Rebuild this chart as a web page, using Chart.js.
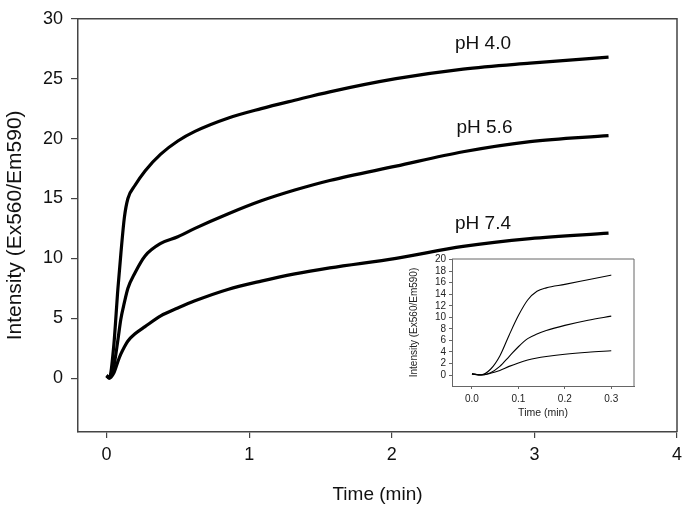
<!DOCTYPE html>
<html>
<head>
<meta charset="utf-8">
<script src="https://cdn.jsdelivr.net/npm/chart.js@4.4.0/dist/chart.umd.min.js"></script>
<style>
  html, body { margin: 0; padding: 0; background: #fff; }
  #wrap { position: relative; width: 691px; height: 518px; }
  #main { position: absolute; left: 0; top: 0; }
  #inset { position: absolute; left: 400px; top: 250px; }
</style>
</head>
<body>
<div id="wrap">
  <canvas id="main" width="691" height="518"></canvas>
  <canvas id="inset" width="245" height="175"></canvas>
</div>
<script>
// main panel (0 - 3.5 min)
const mainTime = [0, 0.02, 0.05, 0.08, 0.1, 0.125, 0.15, 0.2, 0.27, 0.38, 0.5, 0.62, 0.85, 1.085, 1.32, 1.565, 2.03, 2.5, 2.97, 3.52];
const ph40Main = [0.2, 0.05, 2.6, 7.5, 10.3, 13.4, 15.0, 16.1, 17.3, 18.7, 19.8, 20.6, 21.7, 22.5, 23.2, 23.9, 25.0, 25.8, 26.3, 26.8];
const ph56Main = [0.2, 0.0, 0.9, 3.2, 4.9, 6.3, 7.5, 8.8, 10.2, 11.25, 11.8, 12.5, 13.7, 14.8, 15.7, 16.5, 17.7, 18.9, 19.75, 20.25];
const ph74Main = [0.2, 0.0, 0.4, 1.4, 2.0, 2.6, 3.1, 3.7, 4.3, 5.2, 5.85, 6.45, 7.4, 8.1, 8.7, 9.2, 10.0, 11.0, 11.65, 12.1];
const mainXTicks = [0, 1, 2, 3, 4];
const mainYTicks = [0, 5, 10, 15, 20, 25, 30];

// inset (first 0.3 min)
const insetTime = [0, 0.02, 0.04, 0.06, 0.08, 0.1, 0.12, 0.14, 0.16, 0.2, 0.25, 0.3];
const ph40Inset = [0.2, 0.05, 1.0, 3.3, 6.9, 10.3, 13.0, 14.5, 15.1, 15.7, 16.5, 17.3];
const ph56Inset = [0.2, 0.0, 0.4, 1.5, 3.2, 4.9, 6.3, 7.1, 7.7, 8.6, 9.5, 10.2];
const ph74Inset = [0.2, 0.0, 0.3, 0.8, 1.5, 2.1, 2.6, 2.95, 3.2, 3.6, 3.95, 4.2];
const insetXTicks = [0, 0.1, 0.2, 0.3];
const insetYTicks = [0, 2, 4, 6, 8, 10, 12, 14, 16, 18, 20];

const curveNames = ['pH 4.0', 'pH 5.6', 'pH 7.4'];

const FONT = 'Liberation Sans, Arial, sans-serif';
const AXIS = '#444';

const toPoints = (xs, ys) => xs.map((x, i) => ({ x: x, y: ys[i] }));

// top and right sides of the box
const framePlugin = {
  id: 'frame',
  afterDraw(chart, args, opts) {
    const { ctx, chartArea: a } = chart;
    ctx.save();
    ctx.strokeStyle = opts.color;
    ctx.lineWidth = opts.width;
    ctx.beginPath();
    ctx.moveTo(a.left, a.top);
    ctx.lineTo(a.right, a.top);
    ctx.lineTo(a.right, a.bottom);
    ctx.stroke();
    ctx.restore();
  }
};

// curve names written above the end of each trace
const curveLabels = {
  id: 'curveLabels',
  afterDatasetsDraw(chart, args, opts) {
    const { ctx, scales: { x, y } } = chart;
    ctx.save();
    ctx.font = '19px ' + FONT;
    ctx.fillStyle = '#111';
    ctx.textAlign = 'center';
    ctx.textBaseline = 'middle';
    opts.anchors.forEach((p, i) => {
      ctx.fillText(curveNames[i], x.getPixelForValue(p[0]), y.getPixelForValue(p[1]));
    });
    ctx.restore();
  }
};

function lineSet(label, xs, ys, width) {
  return {
    label: label,
    data: toPoints(xs, ys),
    borderColor: '#000',
    borderWidth: width,
    pointRadius: 0,
    cubicInterpolationMode: 'monotone',
    fill: false,
  };
}

new Chart(document.getElementById('main'), {
  type: 'line',
  data: {
    datasets: [
      lineSet(curveNames[0], mainTime, ph40Main, 3.2),
      lineSet(curveNames[1], mainTime, ph56Main, 3.2),
      lineSet(curveNames[2], mainTime, ph74Main, 3.2),
    ],
  },
  plugins: [framePlugin, curveLabels],
  options: {
    responsive: false,
    animation: false,
    layout: { padding: { top: 11, right: 14, left: 0, bottom: 0 } },
    plugins: {
      legend: { display: false },
      tooltip: { enabled: false },
      frame: { color: AXIS, width: 1.5 },
      curveLabels: { anchors: [[2.64, 27.9], [2.65, 20.9], [2.64, 12.9]] },
    },
    scales: {
      x: {
        type: 'linear',
        min: -0.2,
        max: 4,
        afterBuildTicks: s => { s.ticks = mainXTicks.map(v => ({ value: v })); },
        afterFit: s => { s.height = 86; },
        grid: { drawOnChartArea: false, tickLength: 6, color: AXIS, lineWidth: 1.2 },
        border: { color: AXIS, width: 1.5 },
        ticks: { color: '#111', padding: 6, autoSkip: false, font: { size: 18, family: FONT } },
        title: { display: true, text: 'Time (min)', color: '#111', padding: { top: 0, bottom: 12 }, font: { size: 19, family: FONT } },
      },
      y: {
        type: 'linear',
        min: -4.5,
        max: 30,
        afterBuildTicks: s => { s.ticks = mainYTicks.map(v => ({ value: v })); },
        afterFit: s => { s.width = 78; },
        grid: { drawOnChartArea: false, tickLength: 7, color: AXIS, lineWidth: 1.2 },
        border: { color: AXIS, width: 1.5 },
        ticks: { color: '#111', padding: 8, autoSkip: false, font: { size: 18, family: FONT } },
        title: { display: true, text: 'Intensity (Ex560/Em590)', color: '#111', padding: { top: 3, bottom: 0 }, font: { size: 21, family: FONT } },
      },
    },
  },
});

new Chart(document.getElementById('inset'), {
  type: 'line',
  data: {
    datasets: [
      lineSet(curveNames[0], insetTime, ph40Inset, 1.1),
      lineSet(curveNames[1], insetTime, ph56Inset, 1.1),
      lineSet(curveNames[2], insetTime, ph74Inset, 1.1),
    ],
  },
  plugins: [framePlugin],
  options: {
    responsive: false,
    animation: false,
    layout: { padding: { top: 7, right: 11, left: 0, bottom: 0 } },
    plugins: {
      legend: { display: false },
      tooltip: { enabled: false },
      frame: { color: '#666', width: 1 },
    },
    scales: {
      x: {
        type: 'linear',
        min: -0.043,
        max: 0.349,
        afterBuildTicks: s => { s.ticks = insetXTicks.map(v => ({ value: v })); },
        afterFit: s => { s.height = 39; },
        grid: { drawOnChartArea: false, tickLength: 3, color: '#666', lineWidth: 1 },
        border: { color: '#666', width: 1 },
        ticks: { color: '#222', padding: 4, autoSkip: false, font: { size: 10, family: FONT }, callback: v => v.toFixed(1) },
        title: { display: true, text: 'Time (min)', color: '#222', padding: { top: 0, bottom: 6 }, font: { size: 10.5, family: FONT } },
      },
      y: {
        type: 'linear',
        min: -1.9,
        max: 20.1,
        afterBuildTicks: s => { s.ticks = insetYTicks.map(v => ({ value: v })); },
        afterFit: s => { s.width = 52; },
        grid: { drawOnChartArea: false, tickLength: 3, color: '#666', lineWidth: 1 },
        border: { color: '#666', width: 1 },
        ticks: { color: '#222', padding: 3, autoSkip: false, font: { size: 10, family: FONT } },
        title: { display: true, text: 'Intensity (Ex560/Em590)', color: '#222', padding: { top: 8, bottom: 0 }, font: { size: 10, family: FONT } },
      },
    },
  },
});
</script>
</body>
</html>
